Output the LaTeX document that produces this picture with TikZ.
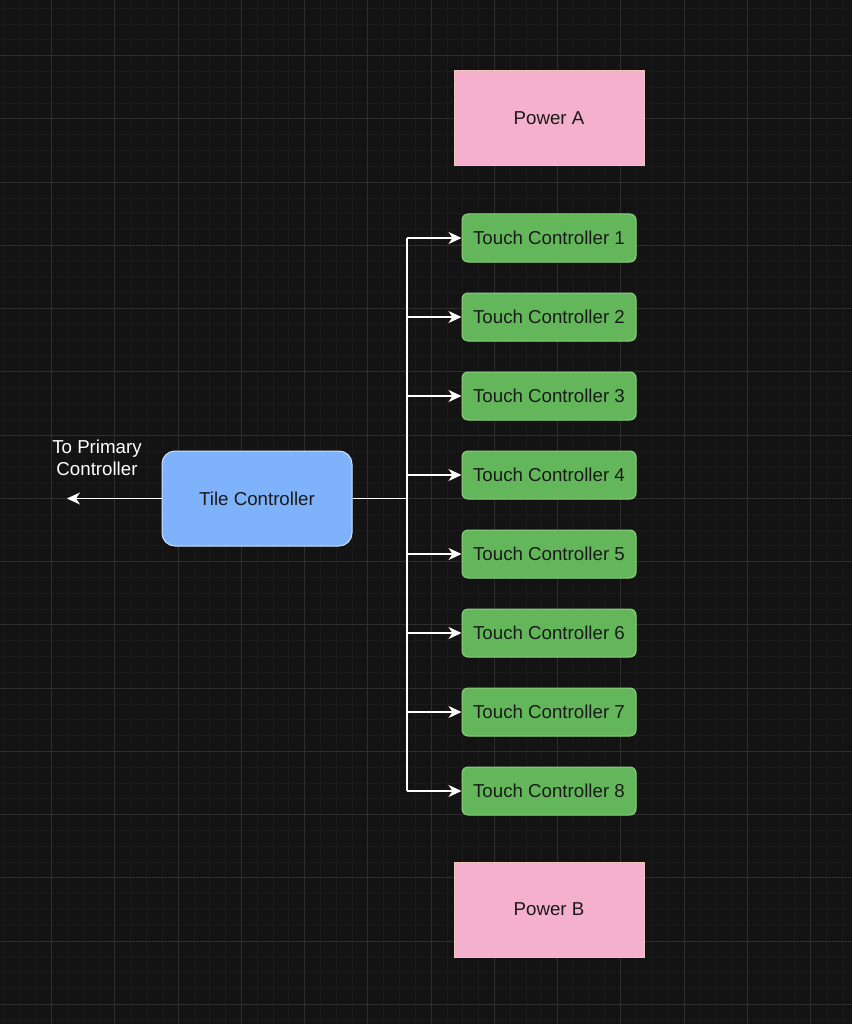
\documentclass[tikz,border=0pt]{standalone}
\usepackage{fontspec}
\setmainfont{Liberation Sans}
\usetikzlibrary{arrows.meta}
\definecolor{bg}{HTML}{131313}
\definecolor{gmajor}{HTML}{2E2E2E}
\definecolor{gminor}{HTML}{1A1A1A}
\definecolor{pinkfill}{HTML}{F4B0CC}
\definecolor{pinkdraw}{HTML}{EFC6BE}
\definecolor{greenfill}{HTML}{63B75A}
\definecolor{greendraw}{HTML}{8CD07E}
\definecolor{bluefill}{HTML}{7EB2FA}
\definecolor{bluedraw}{HTML}{D0E2FF}
\definecolor{txt}{HTML}{1A1A1A}
\tikzset{
  power/.style={draw=pinkdraw, fill=pinkfill, line width=1pt, minimum width=190pt, minimum height=95pt, inner sep=0pt, text=txt, font=\fontsize{18.7}{22}\selectfont},
  touch/.style={draw=greendraw, fill=greenfill, line width=1pt, rounded corners=6pt, minimum width=174pt, minimum height=48pt, inner sep=0pt, text=txt, font=\fontsize{18.7}{22}\selectfont},
  tile/.style={draw=bluedraw, fill=bluefill, line width=1pt, rounded corners=13pt, minimum width=190pt, minimum height=95pt, inner sep=0pt, text=txt, font=\fontsize{18.7}{22}\selectfont},
  wire/.style={draw=white, line width=1.3pt},
  arr/.style={wire, -{Stealth[length=13pt,width=12pt,inset=4pt]}},
  lbl/.style={text=white, align=center, font=\fontsize{18.7}{21.5}\selectfont},
  minor/.style={draw=gminor, line width=1pt},
  major/.style={draw=gmajor, line width=1pt}
}
\begin{document}
\begin{tikzpicture}[x=1pt, y=-1pt]
\fill[bg] (0,0) rectangle (852,1024);
\useasboundingbox (0,0) rectangle (852,1024);
\begin{scope}
\clip (0,0) rectangle (852,1024);
\foreach \i in {-4,...,54} {
  \draw[minor] ({51.7+15.8125*\i},0) -- ({51.7+15.8125*\i},1024);
}
\foreach \i in {-4,...,65} {
  \draw[minor] (0,{55.7+15.8125*\i}) -- (852,{55.7+15.8125*\i});
}
\foreach \i in {-1,...,13} {
  \draw[major] ({51.7+63.25*\i},0) -- ({51.7+63.25*\i},1024);
}
\foreach \i in {-1,...,16} {
  \draw[major] (0,{55.7+63.25*\i}) -- (852,{55.7+63.25*\i});
}
\end{scope}

\node[power] (pa) at (549,118.5) {Power A};
\node[power] (pb) at (549,909.5) {Power B};
\node[tile] (tile) at (257,498.5) {Tile Controller};

\foreach \k in {1,...,8} {
  \node[touch] (t\k) at (549,{238+79*(\k-1)}) {Touch Controller \k};
}

\coordinate (junc) at (407,498.5);
\coordinate (top) at (407,238);
\coordinate (bot) at (407,791);
\coordinate (prim) at (67,498.5);

\draw[wire] (tile.east) -- (junc);
\draw[wire] (top) -- (bot);
\foreach \k in {1,...,8} {
  \draw[arr] (407,{238+79*(\k-1)}) -- (t\k.west);
}
\draw[arr] (tile.west) -- (prim);
\node[lbl] (lab) at (97,458) {To Primary\\Controller};
\end{tikzpicture}
\end{document}
